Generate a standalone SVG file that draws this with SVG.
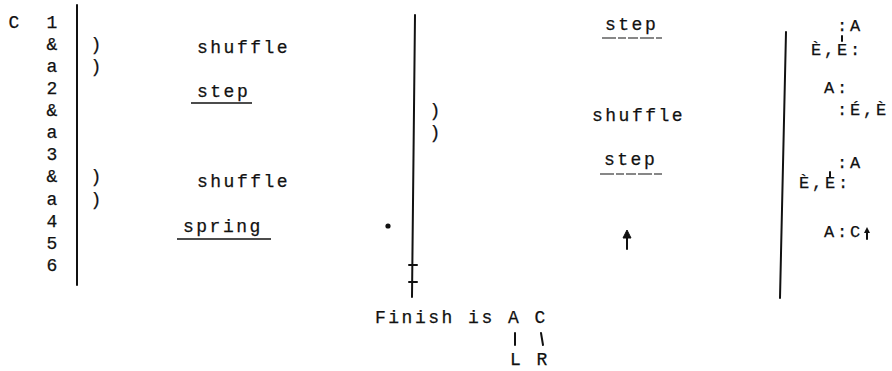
<svg xmlns="http://www.w3.org/2000/svg" width="892" height="371" viewBox="0 0 892 371">
<style>
text{font-family:"Liberation Mono","DejaVu Sans Mono",monospace;fill:#111;stroke:#111;stroke-width:0.25}
.t{font-size:18px;letter-spacing:2.5px}
.r{font-size:17px;letter-spacing:2.8px}
.c{font-size:18px;text-anchor:middle}
.ln{stroke:#111;stroke-width:2;fill:none;stroke-linecap:round}
.ul{stroke:#111;stroke-width:1.3;fill:none}
.ud{stroke:#111;stroke-width:1.2;fill:none;stroke-dasharray:14 2 8 2 10 2}
</style>
<rect width="892" height="371" fill="#fff"/>
<g id="counts">
<text class="c" x="14" y="28">C</text>
<text class="c" x="52" y="28">1</text>
<text class="c" x="52" y="50">&amp;</text>
<text class="c" x="52" y="72">a</text>
<text class="c" x="52" y="94">2</text>
<text class="c" x="52" y="116">&amp;</text>
<text class="c" x="52" y="138">a</text>
<text class="c" x="52" y="160">3</text>
<text class="c" x="52" y="182">&amp;</text>
<text class="c" x="52" y="205">a</text>
<text class="c" x="52" y="227">4</text>
<text class="c" x="52" y="249">5</text>
<text class="c" x="52" y="271">6</text>
</g>
<g id="lines">
<line class="ln" x1="77" y1="5" x2="77" y2="285"/>
<line class="ln" x1="415" y1="15" x2="412" y2="297"/>
<line class="ln" x1="409" y1="265" x2="417" y2="265"/>
<line class="ln" x1="409" y1="282" x2="417" y2="282"/>
<line class="ln" x1="786" y1="32" x2="780" y2="298"/>
<circle cx="388" cy="226" r="2.6" fill="#111"/>
</g>
<g id="left-steps">
<text class="c" x="96" y="50">)</text>
<text class="c" x="96" y="72">)</text>
<text class="c" x="96" y="182">)</text>
<text class="c" x="96" y="205">)</text>
<text class="t" x="197" y="53">shuffle</text>
<text class="t" x="197" y="97">step</text>
<line class="ul" x1="191" y1="103" x2="252" y2="103"/>
<text class="t" x="197" y="187">shuffle</text>
<text class="t" x="183" y="232">spring</text>
<line class="ul" x1="177" y1="239" x2="271" y2="239"/>
</g>
<g id="middle-steps">
<text class="c" x="435" y="116">)</text>
<text class="c" x="435" y="138">)</text>
<text class="t" x="605" y="30">step</text>
<line class="ud" x1="602" y1="38" x2="662" y2="38"/>
<text class="t" x="592" y="121">shuffle</text>
<text class="t" x="604" y="165">step</text>
<line class="ud" x1="600" y1="174" x2="662" y2="174"/>
<line class="ln" x1="627" y1="249" x2="627" y2="236"/>
<path d="M627 230 L631 238 L623 238 Z" fill="#111" stroke="#111" stroke-width="1"/>
</g>
<g id="arms">
<text class="r" x="837" y="31">:A</text>
<text class="r" x="811" y="55">È,E:</text>
<line class="ln" x1="842" y1="36" x2="842" y2="41" stroke-width="1.5"/>
<text class="r" x="824" y="93">A:</text>
<text class="r" x="837" y="115">:É,È</text>
<text class="r" x="837" y="168">:A</text>
<text class="r" x="799" y="188">È,E:</text>
<line class="ln" x1="830" y1="172" x2="830" y2="177" stroke-width="1.5"/>
<text class="r" x="824" y="237">A:C</text>
<line class="ln" x1="867" y1="239" x2="867" y2="231" stroke-width="1.6"/>
<path d="M867 227 L870 233 L864 233 Z" fill="#111"/>
</g>
<g id="finish">
<text class="t" x="375" y="323">Finish is A C</text>
<line class="ln" x1="515" y1="333" x2="515" y2="345"/>
<line class="ln" x1="541" y1="333" x2="543" y2="345"/>
<text class="t" x="510" y="365">L R</text>
</g>
</svg>
